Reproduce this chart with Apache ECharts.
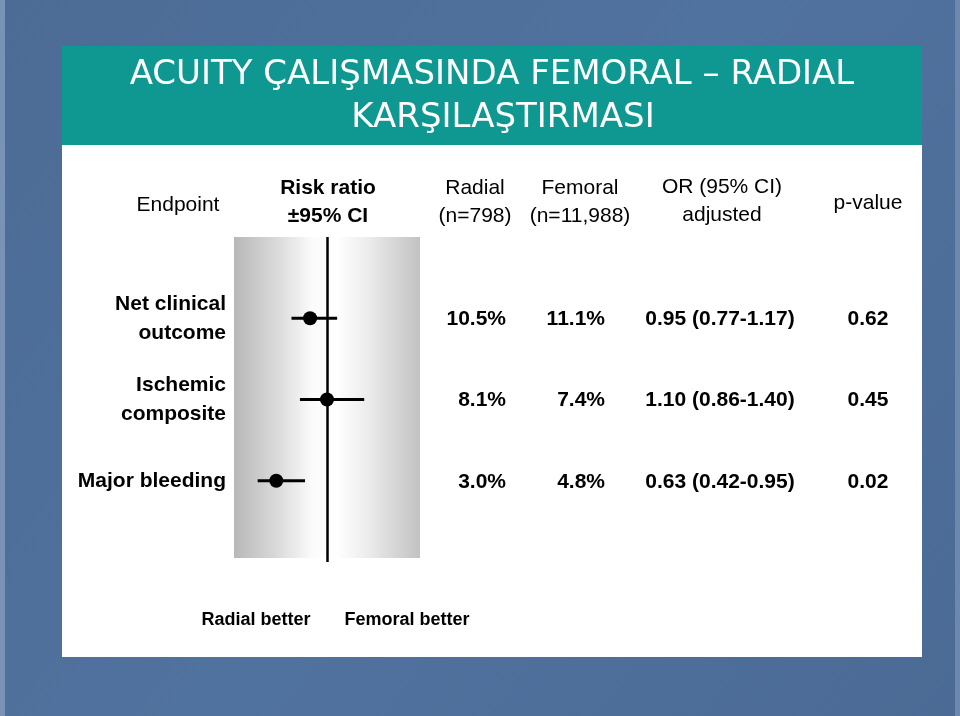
<!DOCTYPE html>
<html>
<head>
<meta charset="utf-8">
<script src="https://cdn.jsdelivr.net/npm/echarts@6/dist/echarts.min.js"></script>
<style>html,body{margin:0;padding:0;background:#4f6f98;}#c{width:960px;height:716px;}</style>
</head>
<body>
<div id="c"></div>
<script>
// ---- data ----
const titleLines = ['ACUITY ÇALIŞMASINDA FEMORAL – RADIAL', 'KARŞILAŞTIRMASI'];
const endpoints = ['Net clinical\noutcome', 'Ischemic\ncomposite', 'Major bleeding'];
const rrEstimate = [0.90, 1.00, 0.70];
const rrLow = [0.79, 0.84, 0.59];
const rrHigh = [1.06, 1.22, 0.87];
const radialRates = ['10.5%', '8.1%', '3.0%'];
const femoralRates = ['11.1%', '7.4%', '4.8%'];
const orAdjusted = ['0.95 (0.77-1.17)', '1.10 (0.86-1.40)', '0.63 (0.42-0.95)'];
const pValues = ['0.62', '0.45', '0.02'];
const headerEndpoint = 'Endpoint';
const headerRisk = ['Risk ratio', '±95% CI'];
const headerRadial = ['Radial', '(n=798)'];
const headerFemoral = ['Femoral', '(n=11,988)'];
const headerOR = ['OR (95% CI)', 'adjusted'];
const headerP = 'p-value';
const footerLabels = ['Radial better', 'Femoral better'];

const chart = echarts.init(document.getElementById('c'), null, {renderer: 'canvas'});
const F = '"Liberation Sans", Arial, sans-serif';

function txt(text, x, y, font, align, fill, extra) {
  return Object.assign({
    type: 'text', x: x, y: y, z: 5,
    style: {text: text, font: font, fill: fill || '#000',
      align: align || 'center', verticalAlign: 'middle',
      textAlign: align || 'center', textVerticalAlign: 'middle'}
  }, extra || {});
}

const baseOption = {
  animation: false,
  backgroundColor: {
    type: 'linear', x: 0, y: 0, x2: 1, y2: 1,
    colorStops: [{offset: 0, color: '#4c6c95'}, {offset: 0.5, color: '#50729e'}, {offset: 1, color: '#4b6b95'}]
  },
  grid: {left: 234, top: 237, width: 186, height: 325, containLabel: false},
  xAxis: {type: 'value', min: 0.45, max: 1.55, show: false},
  yAxis: {
    type: 'value', inverse: true, min: -1, max: 3, interval: 1,
    axisLine: {show: false}, axisTick: {show: false}, splitLine: {show: false},
    axisLabel: {
      margin: 8, fontFamily: F, fontSize: 21, fontWeight: 'bold', color: '#000',
      lineHeight: 29, align: 'right',
      formatter: function (v) { return (v >= 0 && v < endpoints.length && Number.isInteger(v)) ? endpoints[v] : ''; }
    }
  },
  series: [
    {
      type: 'scatter', name: 'band', data: [], silent: true,
      markArea: {
        silent: true,
        itemStyle: {
          opacity: 1,
          color: {type: 'linear', x: 0, y: 0, x2: 1, y2: 0,
            colorStops: [{offset: 0, color: '#b8b8b8'}, {offset: 0.22, color: '#d8d8d8'},
              {offset: 0.42, color: '#fbfbfb'}, {offset: 0.55, color: '#ffffff'},
              {offset: 0.72, color: '#ececec'}, {offset: 1, color: '#c2c2c2'}]}
        },
        data: [[{xAxis: 0.45, yAxis: -1}, {xAxis: 1.55, yAxis: 2.95}]]
      },
      markLine: {
        silent: true, symbol: 'none', label: {show: false},
        lineStyle: {color: '#000', width: 2.5, type: 'solid'},
        data: [{xAxis: 1}]
      }
    },
    {
      type: 'custom', name: 'ci', z: 3,
      data: rrLow.map((l, i) => [l, rrHigh[i], i]),
      renderItem: function (params, api) {
        const a = api.coord([api.value(0), api.value(2)]);
        const b = api.coord([api.value(1), api.value(2)]);
        return {type: 'line', shape: {x1: a[0], y1: a[1], x2: b[0], y2: b[1]},
          style: {stroke: '#000', lineWidth: 3}};
      }
    },
    {
      type: 'scatter', name: 'estimate', z: 4,
      symbol: 'circle', symbolSize: 14,
      itemStyle: {color: '#000', opacity: 1},
      data: rrEstimate.map((v, i) => [v, i])
    }
  ]
};

chart.setOption(baseOption);

const rowY = endpoints.map((e, i) => chart.convertToPixel({yAxisIndex: 0}, i));
const bold = 'bold 21px ' + F;
const reg = '21px ' + F;

const elements = [
  {type: 'rect', z: -10, shape: {x: 0, y: 0, width: 5, height: 716}, style: {fill: '#7893b6'}},
  {type: 'rect', z: -10, shape: {x: 955, y: 0, width: 5, height: 716}, style: {fill: '#6c88ad'}},
  {type: 'rect', z: -9, shape: {x: 62, y: 46, width: 860, height: 99}, style: {fill: '#0f9892'}},
  {type: 'rect', z: -9, shape: {x: 62, y: 145, width: 860, height: 512}, style: {fill: '#ffffff'}},
  txt(titleLines[0], 492, 75, '34px "DejaVu Sans", Tahoma, sans-serif', 'center', '#ffffff'),
  txt(titleLines[1], 503, 118, '34px "DejaVu Sans", Tahoma, sans-serif', 'center', '#ffffff'),
  txt(headerEndpoint, 178, 205, reg, 'center'),
  txt(headerRisk[0], 328, 188, bold, 'center'),
  txt(headerRisk[1], 328, 216, bold, 'center'),
  txt(headerRadial[0], 475, 188, reg, 'center'),
  txt(headerRadial[1], 475, 216, reg, 'center'),
  txt(headerFemoral[0], 580, 188, reg, 'center'),
  txt(headerFemoral[1], 580, 216, reg, 'center'),
  txt(headerOR[0], 722, 187, reg, 'center'),
  txt(headerOR[1], 722, 215, reg, 'center'),
  txt(headerP, 868, 203, reg, 'center'),
  txt(footerLabels[0], 256, 620, 'bold 18px ' + F, 'center'),
  txt(footerLabels[1], 407, 620, 'bold 18px ' + F, 'center')
];
rowY.forEach((y, i) => {
  elements.push(txt(radialRates[i], 506, y + 1, bold, 'right'));
  elements.push(txt(femoralRates[i], 605, y + 1, bold, 'right'));
  elements.push(txt(orAdjusted[i], 720, y + 1, bold, 'center'));
  elements.push(txt(pValues[i], 868, y + 1, bold, 'center'));
});

chart.setOption({graphic: {elements: elements}});
</script>
</body>
</html>
